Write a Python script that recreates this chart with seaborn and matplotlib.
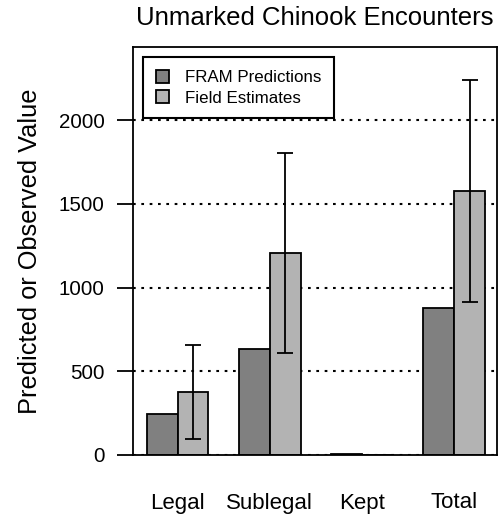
import numpy as np
import pandas as pd
import matplotlib
matplotlib.use('Agg')
import matplotlib.pyplot as plt
import seaborn as sns

# values
categories = ['Legal', 'Sublegal', 'Kept', 'Total']
fram_predictions = [245, 633, 5, 876]
field_estimates = [376, 1206, 0, 1576]
field_lower = [95, 607, np.nan, 915]
field_upper = [656, 1801, np.nan, 2236]
series_names = ['FRAM Predictions', 'Field Estimates']

sns.set_style('white')
plt.rcParams['font.family'] = ['Liberation Sans', 'DejaVu Sans']
plt.rcParams['text.color'] = 'black'
plt.rcParams['axes.labelcolor'] = 'black'
plt.rcParams['xtick.color'] = 'black'
plt.rcParams['ytick.color'] = 'black'

df = pd.DataFrame({
    'category': categories * 2,
    'value': fram_predictions + field_estimates,
    'source': [series_names[0]] * 4 + [series_names[1]] * 4,
})

fig = plt.figure(figsize=(4.98, 5.21), dpi=100)
ax = fig.add_axes([133 / 498, 66 / 521, 364 / 498, 408 / 521])

sns.barplot(data=df, x='category', y='value', hue='source',
            order=categories, hue_order=series_names,
            palette=['#808080', '#b3b3b3'], width=2 / 3, gap=0,
            edgecolor='black', linewidth=1.3, saturation=1,
            errorbar=None, ax=ax, zorder=2)

# error bars on the field estimates
field_x = [p.get_x() + p.get_width() / 2 for p in ax.containers[1].patches]
est = np.array(field_estimates, dtype=float)
lo = np.array(field_lower)
hi = np.array(field_upper)
ax.errorbar(field_x, est, yerr=[est - lo, hi - est], fmt='none',
            ecolor='black', elinewidth=1.3, capsize=5.8, capthick=1.3, zorder=3)

ax.set_ylim(0, 2436)
ax.set_xlim(-0.485, 3.465)
ax.set_yticks([0, 500, 1000, 1500, 2000])
ax.yaxis.grid(True, linestyle=(0, (1.3, 2.7)), color='black', linewidth=1.5)
ax.set_axisbelow(True)

for s in ax.spines.values():
    s.set_visible(True)
    s.set_color('black')
    s.set_linewidth(1.3)

ax.tick_params(axis='y', length=11.5, width=1.3, pad=9, labelsize=14.8, left=True)
ax.tick_params(axis='x', length=0, pad=27, labelsize=16)

ax.set_xlabel('')
ax.set_ylabel('Predicted or Observed Value', fontsize=18.3, labelpad=12)
ax.set_title('Unmarked Chinook Encounters', fontsize=18.5, pad=16)

leg = ax.legend(loc='upper left', bbox_to_anchor=(0.0275, 0.9755), fontsize=12.2,
                frameon=True, fancybox=False, edgecolor='black', framealpha=1,
                handlelength=0.8, handleheight=0.8, handletextpad=0.9,
                borderpad=0.75, labelspacing=0.3, borderaxespad=0)
leg.get_frame().set_linewidth(1.5)
leg.set_zorder(5)

fig.savefig('out.png', dpi=100)
